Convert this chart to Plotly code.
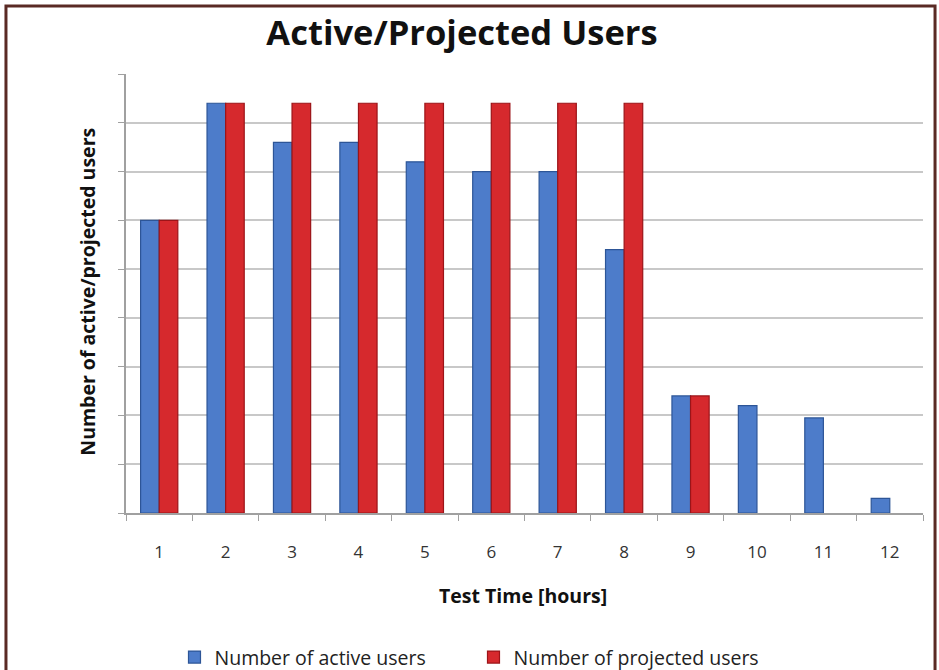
import plotly.graph_objects as go

hours = ["1", "2", "3", "4", "5", "6", "7", "8", "9", "10", "11", "12"]
active_users = [60, 84, 76, 76, 72, 70, 70, 54, 24, 22, 19.5, 3]
projected_users = [60, 84, 84, 84, 84, 84, 84, 84, 24, None, None, None]

FONT = "Open Sans, Lato, sans-serif"

fig = go.Figure()
fig.add_trace(go.Bar(
    x=hours, y=active_users, name="Number of active users",
    marker=dict(color="#4d7cca", line=dict(color="#2d5597", width=1.2)),
))
fig.add_trace(go.Bar(
    x=hours, y=projected_users, name="Number of projected users",
    marker=dict(color="#d6292d", line=dict(color="#9c1418", width=1.2)),
))

fig.update_layout(
    width=939, height=670,
    paper_bgcolor="white", plot_bgcolor="white",
    margin=dict(l=126, r=16, t=74, b=156.5, autoexpand=False),
    barmode="group", bargap=0.44, bargroupgap=0,
    title=dict(text="<b>Active/Projected Users</b>", x=0.492, xanchor="center",
               y=0.951, yanchor="middle",
               font=dict(family=FONT, size=34.5, color="#111111")),
    xaxis=dict(
        type="category", tickson="boundaries", ticks="outside", ticklen=6,
        tickcolor="#a0a0a0", showline=True, linecolor="#a0a0a0", linewidth=1.5,
        showgrid=False, automargin=False, ticklabelstandoff=23,
        tickfont=dict(family=FONT, size=17, color="#333333"),
    ),
    yaxis=dict(
        range=[0, 90], dtick=10, showticklabels=False, ticks="outside", ticklen=6,
        tickcolor="#a0a0a0", showline=True, linecolor="#a0a0a0", linewidth=1.5,
        showgrid=True, gridcolor="#c8c8c8", gridwidth=1.5, zeroline=False,
        automargin=False,
    ),
    legend=dict(orientation="h", x=0.436, xanchor="center", y=-0.329, yanchor="middle",
                font=dict(family=FONT, size=19.5, color="#222222"),
                itemwidth=30, traceorder="normal", entrywidth=254),
    annotations=[
        dict(text="<b>Number of active/projected users</b>", xref="paper", yref="paper",
             x=-0.0477, y=0.504, xanchor="center", yanchor="middle", textangle=-90,
             showarrow=False, font=dict(family=FONT, size=19.5, color="#111111")),
        dict(text="<b>Test Time [hours]</b>", xref="paper", yref="paper",
             x=0.498, y=-0.188, xanchor="center", yanchor="middle",
             showarrow=False, font=dict(family=FONT, size=19.5, color="#111111")),
    ],
    shapes=[dict(type="rect", xref="paper", yref="paper",
                 x0=-0.1506, x1=1.0151, y0=-0.5, y1=1.1547,
                 line=dict(color="#5a2a24", width=3), fillcolor="rgba(0,0,0,0)",
                 layer="above")],
)

fig.write_html("out.html", config={"displayModeBar": False},
               post_script="document.body.style.margin='0';document.body.style.overflow='hidden';")
